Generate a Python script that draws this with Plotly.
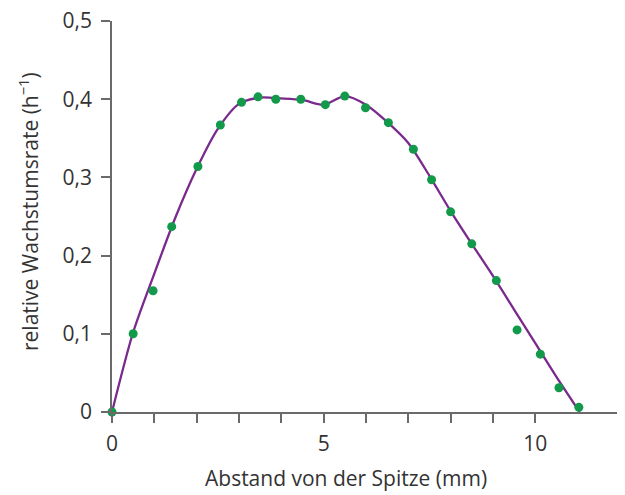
import plotly.graph_objects as go

# measured points (distance from tip in mm, relative growth rate 1/h)
point_x = [0.0, 0.5, 0.97, 1.41, 2.03, 2.56, 3.06, 3.45, 3.87, 4.46, 5.04, 5.5,
           5.99, 6.53, 7.12, 7.55, 8.0, 8.5, 9.08, 9.57, 10.12, 10.56, 11.03]
point_y = [0.0, 0.100, 0.155, 0.237, 0.314, 0.367, 0.396, 0.403, 0.400, 0.400, 0.393, 0.404,
           0.389, 0.370, 0.336, 0.297, 0.256, 0.215, 0.168, 0.105, 0.074, 0.031, 0.006]

# fitted curve
curve_x = [0, 0.5, 1.0, 1.5, 2.0, 2.5, 3.0, 3.5, 4.0, 4.5, 5.0, 5.5, 6.0, 6.5,
           7.0, 7.5, 8.0, 8.5, 9.0, 9.5, 10.0, 10.5, 11.05]
curve_y = [0, 0.102, 0.177, 0.249, 0.311, 0.362, 0.394, 0.402, 0.401, 0.399, 0.393, 0.404,
           0.393, 0.371, 0.344, 0.302, 0.257, 0.215, 0.174, 0.131, 0.088, 0.045, 0]

x_major_ticks = [0, 5, 10]
x_major_labels = ["0", "5", "10"]
x_minor_ticks = [1, 2, 3, 4, 6, 7, 8, 9]
y_tickvals = [0, 0.1, 0.2, 0.3, 0.4, 0.5]
y_ticktext = ["0", "0,1", "0,2", "0,3", "0,4", "0,5"]

x_title = "Abstand von der Spitze (mm)"
y_title = "relative Wachstumsrate (h<sup>−1</sup>)"

FONT = "Open Sans"
AXIS = "#6a6a6a"
TXT = "#333333"

fig = go.Figure()
fig.add_trace(go.Scatter(
    x=curve_x, y=curve_y, mode="lines",
    line=dict(color="#7a2a8c", width=2.3, shape="spline", smoothing=0.8),
    cliponaxis=False, hoverinfo="skip", showlegend=False))
fig.add_trace(go.Scatter(
    x=point_x, y=point_y, mode="markers",
    marker=dict(color="#12994a", size=9, line=dict(width=0)),
    cliponaxis=False, showlegend=False))

fig.update_layout(
    width=625, height=495,
    margin=dict(l=104, r=8, t=13, b=91, autoexpand=False),
    paper_bgcolor="white", plot_bgcolor="white",
    font=dict(family=FONT, size=21, color=TXT),
    separators=",.",
    annotations=[
        dict(text=x_title, xref="paper", yref="paper", x=0.456, y=-0.168,
             xanchor="center", yanchor="middle", showarrow=False,
             font=dict(family=FONT, size=21, color=TXT)),
        dict(text=y_title, xref="paper", yref="paper", x=-0.1637, y=0.5115,
             xanchor="center", yanchor="middle", showarrow=False, textangle=-90,
             font=dict(family=FONT, size=21, color=TXT)),
    ],
)
fig.update_xaxes(
    range=[0, 12.12], showgrid=False, zeroline=False, automargin=False,
    showline=True, linecolor=AXIS, linewidth=1.5,
    tickmode="array", tickvals=x_major_ticks, ticktext=x_major_labels,
    ticks="outside", ticklen=9, tickwidth=1.5, tickcolor=AXIS,
    ticklabelstandoff=3, ticklabeloverflow="allow",
    minor=dict(tickmode="array", tickvals=x_minor_ticks, ticks="outside",
               ticklen=9, tickwidth=1.5, tickcolor=AXIS, showgrid=False),
)
fig.update_yaxes(
    range=[0, 0.5], showgrid=False, zeroline=False, automargin=False,
    showline=True, linecolor=AXIS, linewidth=1.5,
    tickmode="array", tickvals=y_tickvals, ticktext=y_ticktext,
    ticks="outside", ticklen=9, tickwidth=1.5, tickcolor=AXIS,
    ticklabelstandoff=5, ticklabeloverflow="allow",
)

fig.write_html("out.html")
